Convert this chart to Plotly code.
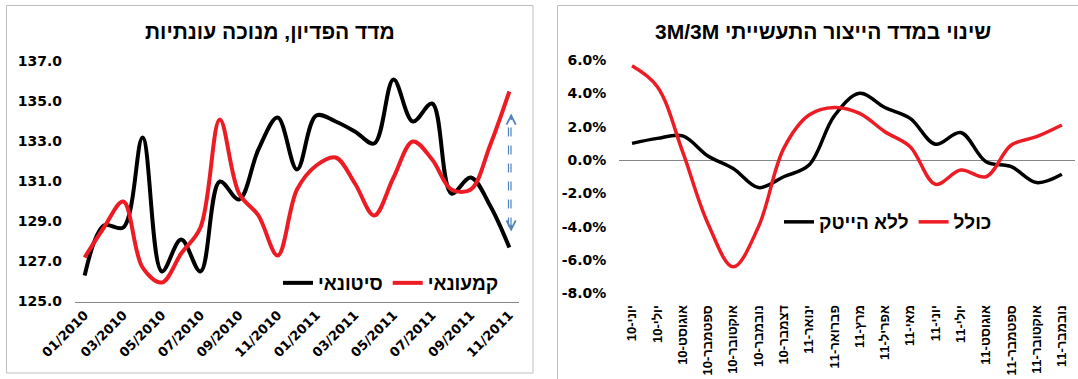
import plotly.graph_objects as go

W, H = 1078, 379

# ---- left panel: sales index, seasonally adjusted ----
months = ["01/2010", "02/2010", "03/2010", "04/2010", "05/2010", "06/2010",
          "07/2010", "08/2010", "09/2010", "10/2010", "11/2010", "12/2010",
          "01/2011", "02/2011", "03/2011", "04/2011", "05/2011", "06/2011",
          "07/2011", "08/2011", "09/2011", "10/2011", "11/2011"]
wholesale = [126.3, 128.8, 128.7, 133.2, 126.5, 128.1, 126.5, 131.0, 130.1,
             132.6, 134.2, 131.6, 134.3, 134.0, 133.5, 132.9, 136.1, 134.0,
             134.9, 130.4, 131.2, 129.8, 127.7]
retail = [127.2, 128.7, 130.0, 126.7, 125.95, 127.4, 128.7, 134.1, 130.4,
          129.3, 127.3, 130.6, 131.8, 132.2, 130.9, 129.3, 131.2, 133.0,
          132.1, 130.6, 130.6, 132.8, 135.5]
left_ticks = [125, 127, 129, 131, 133, 135, 137]

# ---- right panel: industrial production, 3M/3M change (%) ----
periods = ["יוני-10", "יולי-10", "אוגוסט-10", "ספטמבר-10", "אוקטובר-10",
           "נובמבר-10", "דצמבר-10", "ינואר-11", "פברואר-11", "מרץ-11",
           "אפריל-11", "מאי-11", "יוני-11", "יולי-11", "אוגוסט-11",
           "ספטמבר-11", "אוקטובר-11", "נובמבר-11"]
ex_hitech = [1.0, 1.3, 1.45, 0.25, -0.5, -1.65, -1.0, -0.3, 2.65, 4.0, 3.15,
             2.5, 0.95, 1.65, -0.1, -0.4, -1.35, -0.85]
incl_all = [5.65, 4.4, 0.5, -3.8, -6.4, -4.0, 0.7, 2.7, 3.15, 2.8, 1.7, 0.8,
            -1.45, -0.6, -1.0, 0.9, 1.4, 2.1]
right_ticks = [-8, -6, -4, -2, 0, 2, 4, 6]

left_title = "מדד הפדיון, מנוכה עונתיות"
right_title = "שינוי במדד הייצור התעשייתי 3M/3M"

RED = "#ED1C24"
BLUE = "#4F81BD"
AXIS_GRAY = "#868686"
NUM_FONT = "DejaVu Sans"
HEB_FONT = "Liberation Sans, Arial"
RLE, PDF = "\u202b", "\u202c"   # right-to-left embedding for Hebrew titles


def fx(px):
    return px / W


def fy(py):
    return 1 - py / H


fig = go.Figure()

fig.add_trace(go.Scatter(x=months, y=wholesale, name="סיטונאי", mode="lines",
                         line=dict(color="black", width=4, shape="spline", smoothing=1),
                         xaxis="x", yaxis="y", legend="legend"))
fig.add_trace(go.Scatter(x=months, y=retail, name="קמעונאי", mode="lines",
                         line=dict(color=RED, width=4, shape="spline", smoothing=1),
                         xaxis="x", yaxis="y", legend="legend"))
fig.add_trace(go.Scatter(x=periods, y=ex_hitech, name="ללא הייטק", mode="lines",
                         line=dict(color="black", width=3.5, shape="spline", smoothing=1),
                         xaxis="x2", yaxis="y2", legend="legend2"))
fig.add_trace(go.Scatter(x=periods, y=incl_all, name="כולל", mode="lines",
                         line=dict(color=RED, width=3.5, shape="spline", smoothing=1),
                         xaxis="x2", yaxis="y2", legend="legend2"))

fig.update_layout(
    width=W, height=H,
    margin=dict(l=0, r=0, t=0, b=0),
    paper_bgcolor="white", plot_bgcolor="white",
    showlegend=True,
    xaxis=dict(domain=[fx(75), fx(519)], type="category", range=[-0.5, 22.5],
               tickvals=months[::2], tickangle=-45, ticks="",
               tickfont=dict(family=NUM_FONT, size=13, color="black", weight="bold"),
               showline=True, linecolor=AXIS_GRAY, linewidth=1, showgrid=False,
               anchor="y", automargin=False),
    yaxis=dict(domain=[fy(301.5), fy(61.5)], range=[125, 137],
               tickvals=left_ticks, ticktext=[f"{v:.1f}" for v in left_ticks],
               ticks="", ticklabelstandoff=12,
               tickfont=dict(family=NUM_FONT, size=14, color="black", weight="bold"),
               showgrid=False, zeroline=False, showline=False,
               anchor="x", automargin=False),
    xaxis2=dict(domain=[fx(619.4), fx(1074.5)], type="category", range=[-0.5, 17.5],
                tickangle=-90, ticks="", ticklabelstandoff=8,
                tickfont=dict(family=HEB_FONT, size=13, color="black", weight="bold"),
                showline=False, showgrid=False, zeroline=False,
                anchor="y2", automargin=False),
    yaxis2=dict(domain=[fy(293.5), fy(60)], range=[-8, 6],
                tickvals=right_ticks, ticktext=[f"{v:.1f}%" for v in right_ticks],
                ticks="", ticklabelstandoff=12,
                tickfont=dict(family=NUM_FONT, size=14, color="black", weight="bold"),
                showgrid=False, zeroline=True, zerolinecolor=AXIS_GRAY, zerolinewidth=1,
                showline=False, anchor="x2", automargin=False),
    legend=dict(orientation="h", x=fx(278), y=fy(283), xanchor="left", yanchor="middle",
                font=dict(family=HEB_FONT, size=19, color="black", weight="bold"),
                bgcolor="rgba(0,0,0,0)", itemwidth=30, traceorder="normal"),
    legend2=dict(orientation="h", x=fx(779), y=fy(222), xanchor="left", yanchor="middle",
                 font=dict(family=HEB_FONT, size=19, color="black", weight="bold"),
                 bgcolor="rgba(0,0,0,0)", itemwidth=30, traceorder="normal"),
)

# chart titles
fig.add_annotation(text=RLE + left_title + PDF, x=fx(270), y=fy(31),
                   xref="paper", yref="paper", xanchor="center", yanchor="middle",
                   showarrow=False,
                   font=dict(family=HEB_FONT, size=21, color="black", weight="bold"))
fig.add_annotation(text=RLE + right_title + PDF, x=fx(823), y=fy(32),
                   xref="paper", yref="paper", xanchor="center", yanchor="middle",
                   showarrow=False,
                   font=dict(family=HEB_FONT, size=21, color="black", weight="bold"))

# panel frames
fig.add_shape(type="rect", xref="paper", yref="paper",
              x0=fx(6.5), x1=fx(533), y0=fy(373), y1=fy(5.5),
              line=dict(color="#BFBFBF", width=1), fillcolor="rgba(0,0,0,0)", layer="below")
fig.add_shape(type="rect", xref="paper", yref="paper",
              x0=fx(557.5), x1=fx(1085), y0=fy(390), y1=fy(5.5),
              line=dict(color="#BFBFBF", width=1), fillcolor="rgba(0,0,0,0)", layer="below")

# gap marker on the last month: dashed double arrow
gap_top, gap_bottom = 134.4, 128.5
for xp in (508.5, 511.0):
    fig.add_shape(type="line", xref="paper", yref="y", x0=fx(xp), x1=fx(xp),
                  y0=gap_bottom + 0.25, y1=gap_top - 0.25,
                  line=dict(color=BLUE, width=1.2, dash="dash"))
fig.add_annotation(x=months[-1], y=gap_top, xref="x", yref="y", ax=0, ay=8,
                   showarrow=True, arrowhead=5, arrowsize=1.2, arrowwidth=1.5,
                   arrowcolor=BLUE, text="", xshift=1.8)
fig.add_annotation(x=months[-1], y=gap_bottom, xref="x", yref="y", ax=0, ay=-8,
                   showarrow=True, arrowhead=5, arrowsize=1.2, arrowwidth=1.5,
                   arrowcolor=BLUE, text="", xshift=1.8)

fig.write_html("out.html")
